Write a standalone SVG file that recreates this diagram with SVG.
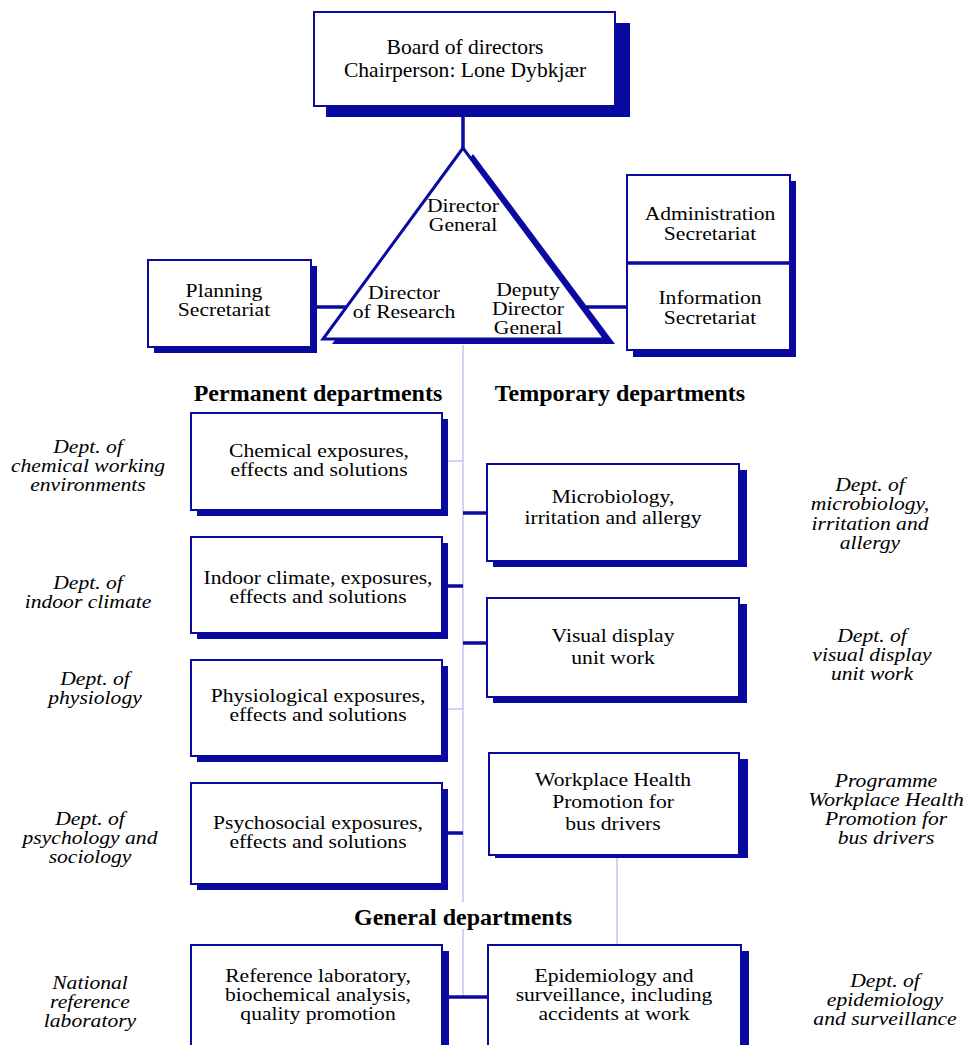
<svg xmlns="http://www.w3.org/2000/svg" width="966" height="1045" viewBox="0 0 966 1045">
  <style>
    .box { fill: #ffffff; stroke: #0a0aa0; stroke-width: 2; }
    .shadow { fill: #0a0aa0; }
    .thick { stroke: #0a0aa0; stroke-width: 3.5; fill: none; }
    .thin { stroke: #b4b4ec; stroke-width: 1.2; fill: none; }
    .t { font-family: "Liberation Serif", "Times New Roman", serif; font-size: 18px; fill: #000; text-anchor: middle; }
    .b { font-family: "Liberation Serif", "Times New Roman", serif; font-size: 20px; fill: #000; text-anchor: middle; }
    .it { font-family: "Liberation Serif", "Times New Roman", serif; font-size: 18px; font-style: italic; fill: #000; text-anchor: middle; }
    .h { font-family: "Liberation Serif", "Times New Roman", serif; font-size: 24px; font-weight: bold; fill: #000; text-anchor: middle; }
  </style>
  <rect width="966" height="1045" fill="#ffffff"/>

  <!-- connectors -->
  <g id="connectors">
    <line class="thick" x1="463" y1="106" x2="463" y2="150"/>
    <line class="thick" x1="311" y1="307" x2="347" y2="307"/>
    <line class="thick" x1="585" y1="307" x2="627" y2="307"/>
    <line class="thin" x1="463" y1="345" x2="463" y2="902"/>
    <line class="thin" x1="463" y1="929" x2="463" y2="997"/>
    <line class="thin" x1="448" y1="461" x2="463" y2="461"/>
    <line class="thick" x1="448" y1="586" x2="463" y2="586"/>
    <line class="thin" x1="448" y1="709" x2="463" y2="709"/>
    <line class="thick" x1="448" y1="833" x2="463" y2="833"/>
    <line class="thick" x1="463" y1="513" x2="487" y2="513"/>
    <line class="thick" x1="463" y1="643" x2="487" y2="643"/>
    <line class="thin" x1="617" y1="858" x2="617" y2="945"/>
    <line class="thick" x1="443" y1="997" x2="488" y2="997"/>
  </g>

  <!-- board -->
  <g id="board">
    <rect class="shadow" x="326" y="23" width="304" height="94"/>
    <rect class="box" x="314" y="12" width="301" height="94"/>
    <text class="b" transform="translate(465 0) scale(1.08 1)"><tspan x="0" y="54">Board of directors</tspan><tspan x="0" y="77">Chairperson: Lone Dybkjær</tspan></text>
  </g>

  <!-- directorate triangle -->
  <g id="directorate">
    <polygon class="shadow" points="473,154 332,344 615,344"/>
    <polygon fill="#ffffff" stroke="#0a0aa0" stroke-width="3" points="463,148 323,339 605,339"/>
    <text class="t" transform="translate(463 0) scale(1.2 1)"><tspan x="0" y="212">Director</tspan><tspan x="0" y="231">General</tspan></text>
    <text class="t" transform="translate(404 0) scale(1.2 1)"><tspan x="0" y="299">Director</tspan><tspan x="0" y="318">of Research</tspan></text>
    <text class="t" transform="translate(528 0) scale(1.2 1)"><tspan x="0" y="296">Deputy</tspan><tspan x="0" y="315">Director</tspan><tspan x="0" y="334">General</tspan></text>
  </g>

  <!-- planning secretariat -->
  <g id="planning">
    <rect class="shadow" x="154" y="266" width="163" height="87"/>
    <rect class="box" x="148" y="260" width="163" height="87"/>
    <text class="t" transform="translate(224 0) scale(1.2 1)"><tspan x="0" y="297">Planning</tspan><tspan x="0" y="316">Secretariat</tspan></text>
  </g>

  <!-- administration / information secretariats -->
  <g id="secretariats">
    <rect class="shadow" x="633" y="181" width="163" height="176"/>
    <rect class="box" x="627" y="175" width="163" height="175"/>
    <line class="thick" x1="627" y1="263" x2="790" y2="263"/>
    <text class="t" transform="translate(710 0) scale(1.2 1)"><tspan x="0" y="220">Administration</tspan><tspan x="0" y="240">Secretariat</tspan></text>
    <text class="t" transform="translate(710 0) scale(1.2 1)"><tspan x="0" y="304">Information</tspan><tspan x="0" y="324">Secretariat</tspan></text>
  </g>

  <!-- section headings -->
  <g id="headings">
    <text class="h" x="318" y="401">Permanent departments</text>
    <text class="h" x="620" y="401">Temporary departments</text>
    <text class="h" x="463" y="925">General departments</text>
  </g>

  <!-- permanent departments -->
  <g id="perm-chemical">
    <rect class="shadow" x="197" y="419" width="251" height="97"/>
    <rect class="box" x="191" y="413" width="251" height="97"/>
    <text class="t" transform="translate(319 0) scale(1.2 1)"><tspan x="0" y="457">Chemical exposures,</tspan><tspan x="0" y="476">effects and solutions</tspan></text>
  </g>
  <g id="perm-indoor">
    <rect class="shadow" x="197" y="543" width="251" height="96"/>
    <rect class="box" x="191" y="537" width="251" height="96"/>
    <text class="t" transform="translate(318 0) scale(1.2 1)"><tspan x="0" y="584">Indoor climate, exposures,</tspan><tspan x="0" y="603">effects and solutions</tspan></text>
  </g>
  <g id="perm-physiological">
    <rect class="shadow" x="197" y="666" width="251" height="96"/>
    <rect class="box" x="191" y="660" width="251" height="96"/>
    <text class="t" transform="translate(318 0) scale(1.2 1)"><tspan x="0" y="702">Physiological exposures,</tspan><tspan x="0" y="721">effects and solutions</tspan></text>
  </g>
  <g id="perm-psychosocial">
    <rect class="shadow" x="197" y="789" width="251" height="101"/>
    <rect class="box" x="191" y="783" width="251" height="101"/>
    <text class="t" transform="translate(318 0) scale(1.2 1)"><tspan x="0" y="829">Psychosocial exposures,</tspan><tspan x="0" y="848">effects and solutions</tspan></text>
  </g>

  <!-- temporary departments -->
  <g id="temp-microbiology">
    <rect class="shadow" x="493" y="470" width="254" height="97"/>
    <rect class="box" x="487" y="464" width="252" height="97"/>
    <text class="t" transform="translate(613 0) scale(1.2 1)"><tspan x="0" y="503">Microbiology,</tspan><tspan x="0" y="524">irritation and allergy</tspan></text>
  </g>
  <g id="temp-vdu">
    <rect class="shadow" x="493" y="604" width="254" height="99"/>
    <rect class="box" x="487" y="598" width="252" height="99"/>
    <text class="t" transform="translate(613 0) scale(1.2 1)"><tspan x="0" y="642">Visual display</tspan><tspan x="0" y="664">unit work</tspan></text>
  </g>
  <g id="temp-workplace">
    <rect class="shadow" x="495" y="759" width="253" height="99"/>
    <rect class="box" x="489" y="753" width="250" height="102"/>
    <text class="t" transform="translate(613 0) scale(1.2 1)"><tspan x="0" y="786">Workplace Health</tspan><tspan x="0" y="808">Promotion for</tspan><tspan x="0" y="830">bus drivers</tspan></text>
  </g>

  <!-- general departments -->
  <g id="gen-reference">
    <rect class="shadow" x="197" y="951" width="252" height="110"/>
    <rect class="box" x="191" y="945" width="251" height="110"/>
    <text class="t" transform="translate(318 0) scale(1.2 1)"><tspan x="0" y="982">Reference laboratory,</tspan><tspan x="0" y="1001">biochemical analysis,</tspan><tspan x="0" y="1020">quality promotion</tspan></text>
  </g>
  <g id="gen-epidemiology">
    <rect class="shadow" x="494" y="951" width="255" height="110"/>
    <rect class="box" x="488" y="945" width="253" height="110"/>
    <text class="t" transform="translate(614 0) scale(1.2 1)"><tspan x="0" y="982">Epidemiology and</tspan><tspan x="0" y="1001">surveillance, including</tspan><tspan x="0" y="1020">accidents at work</tspan></text>
  </g>

  <!-- former department names (left) -->
  <g id="label-chemical">
    <text class="it" transform="translate(88 0) scale(1.2 1)"><tspan x="0" y="453">Dept. of</tspan><tspan x="0" y="472">chemical working</tspan><tspan x="0" y="491">environments</tspan></text>
  </g>
  <g id="label-indoor">
    <text class="it" transform="translate(88 0) scale(1.2 1)"><tspan x="0" y="589">Dept. of</tspan><tspan x="0" y="608">indoor climate</tspan></text>
  </g>
  <g id="label-physiology">
    <text class="it" transform="translate(95 0) scale(1.2 1)"><tspan x="0" y="685">Dept. of</tspan><tspan x="0" y="704">physiology</tspan></text>
  </g>
  <g id="label-psychology">
    <text class="it" transform="translate(90 0) scale(1.2 1)"><tspan x="0" y="825">Dept. of</tspan><tspan x="0" y="844">psychology and</tspan><tspan x="0" y="863">sociology</tspan></text>
  </g>
  <g id="label-reference">
    <text class="it" transform="translate(90 0) scale(1.2 1)"><tspan x="0" y="989">National</tspan><tspan x="0" y="1008">reference</tspan><tspan x="0" y="1027">laboratory</tspan></text>
  </g>

  <!-- former department names (right) -->
  <g id="label-microbiology">
    <text class="it" transform="translate(870 0) scale(1.2 1)"><tspan x="0" y="491">Dept. of</tspan><tspan x="0" y="510">microbiology,</tspan><tspan x="0" y="530">irritation and</tspan><tspan x="0" y="549">allergy</tspan></text>
  </g>
  <g id="label-vdu">
    <text class="it" transform="translate(872 0) scale(1.2 1)"><tspan x="0" y="642">Dept. of</tspan><tspan x="0" y="661">visual display</tspan><tspan x="0" y="680">unit work</tspan></text>
  </g>
  <g id="label-workplace">
    <text class="it" transform="translate(886 0) scale(1.2 1)"><tspan x="0" y="787">Programme</tspan><tspan x="0" y="806">Workplace Health</tspan><tspan x="0" y="825">Promotion for</tspan><tspan x="0" y="844">bus drivers</tspan></text>
  </g>
  <g id="label-epidemiology">
    <text class="it" transform="translate(885 0) scale(1.2 1)"><tspan x="0" y="987">Dept. of</tspan><tspan x="0" y="1006">epidemiology</tspan><tspan x="0" y="1025">and surveillance</tspan></text>
  </g>
</svg>
